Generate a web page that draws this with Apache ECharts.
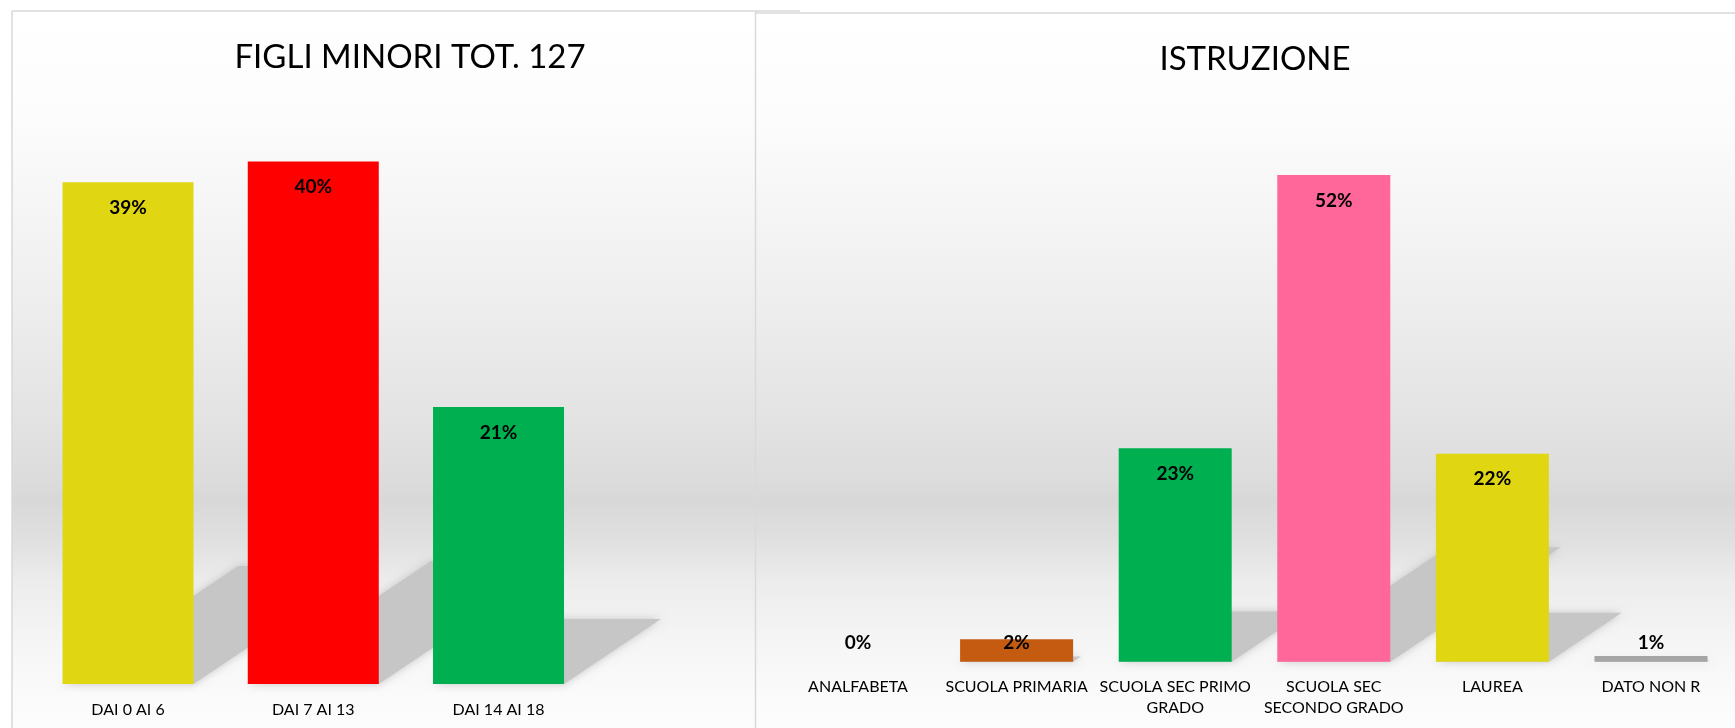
<!DOCTYPE html>
<html>
<head>
<meta charset="utf-8">
<script src="https://cdn.jsdelivr.net/npm/echarts@6/dist/echarts.min.js"></script>
<style>
  html, body { margin: 0; padding: 0; background: #fff; }
  #chart { width: 1735px; height: 728px; }
</style>
</head>
<body>
<div id="chart"></div>
<script>
const figliCategories = ['DAI 0 AI 6', 'DAI 7 AI 13', 'DAI 14 AI 18']
const figliValues = [38.6, 40.2, 21.3]
const figliColors = ['#e0d611', '#ff0000', '#00b050']

const istruzioneCategories = ['ANALFABETA', 'SCUOLA PRIMARIA', 'SCUOLA SEC PRIMO\nGRADO', 'SCUOLA SEC\nSECONDO GRADO', 'LAUREA', 'DATO NON R']
const istruzioneValues = [0, 2.4, 22.8, 52.0, 22.2, 0.6]
const istruzioneColors = ['#a5a5a5', '#c55a11', '#00b050', '#ff6699', '#e0d611', '#a5a5a5']

const FONT = 'Lato, "Open Sans", sans-serif'

let myChart = echarts.init(document.getElementById('chart'))

// sfondo sfumato tipo Excel
function panelBg(x, y, w, h) {
    return {
        type: 'rect',
        z: -10,
        shape: { x: x, y: y, width: w, height: h },
        style: {
            fill: new echarts.graphic.LinearGradient(0, 0, 0, 1, [
                { offset: 0, color: '#ffffff' },
                { offset: 0.152, color: '#fcfcfc' },
                { offset: 0.264, color: '#f6f6f6' },
                { offset: 0.403, color: '#eeeeee' },
                { offset: 0.57, color: '#e3e3e3' },
                { offset: 0.654, color: '#dcdcdc' },
                { offset: 0.682, color: '#d8d8d8' },
                { offset: 0.738, color: '#e0e0e0' },
                { offset: 0.794, color: '#ececec' },
                { offset: 0.877, color: '#f5f5f5' },
                { offset: 0.961, color: '#fbfbfb' },
                { offset: 1, color: '#fcfcfc' }
            ])
        }
    }
}

function border(x1, y1, x2, y2) {
    return {
        type: 'line',
        z: -5,
        shape: { x1: x1, y1: y1, x2: x2, y2: y2 },
        style: { stroke: '#d9d9d9', lineWidth: 1.5 }
    }
}

// ombra prospettica dietro le barre
function shadowSeries(idx, values, barW) {
    return {
        type: 'custom',
        xAxisIndex: idx,
        yAxisIndex: idx,
        z: 1,
        silent: true,
        data: values.map((v, i) => [i, v]),
        renderItem: (params, api) => {
            let base = api.coord([api.value(0), 0])
            let top = api.coord([api.value(0), api.value(1)])
            let h = base[1] - top[1]
            let x0 = base[0] - barW / 2
            let x1 = base[0] + barW / 2
            let dx = h * 0.35
            let dy = h * 0.235
            return {
                type: 'polygon',
                shape: { points: [[x0, base[1]], [x1, base[1]], [x1 + dx, base[1] - dy], [x0 + dx, base[1] - dy]] },
                style: { fill: '#c6c6c6', shadowBlur: 8, shadowColor: '#c6c6c6' }
            }
        }
    }
}

function barData(values, colors) {
    return values.map((v, i) => {
        let item = { value: v, itemStyle: { color: colors[i] } }
        if (v < 5) {
            item.label = { position: 'insideBottom', distance: 9 }
        }
        return item
    })
}

let barLabel = {
    show: true,
    position: 'insideTop',
    distance: 16,
    color: '#000',
    fontFamily: FONT,
    fontWeight: 'bold',
    fontSize: 19,
    formatter: (p) => Math.round(p.value) + '%'
}

let catAxis = {
    type: 'category',
    axisLine: { show: false },
    axisTick: { show: false },
    axisLabel: {
        interval: 0,
        margin: 15,
        color: '#000',
        fontFamily: FONT,
        fontSize: 16,
        lineHeight: 21
    }
}

myChart.setOption({
    animation: false,
    title: [
        {
            text: 'FIGLI MINORI TOT. 127',
            left: 405,
            top: 32,
            textAlign: 'center',
            textStyle: { fontFamily: FONT, fontWeight: 'normal', fontSize: 33, color: '#000', lineHeight: 40 }
        },
        {
            text: 'ISTRUZIONE',
            left: 1250,
            top: 34,
            textAlign: 'center',
            textStyle: { fontFamily: FONT, fontWeight: 'normal', fontSize: 33, color: '#000', lineHeight: 40 }
        }
    ],
    graphic: [
        panelBg(12, 11, 743, 717),
        panelBg(756, 13, 979, 715),
        border(12, 11, 12, 728),
        border(12, 11, 800, 11),
        border(755.5, 11, 755.5, 728),
        border(756, 13, 1735, 13)
    ],
    grid: [
        { left: 35.4, width: 555.75, top: 99, height: 585 },
        { left: 778.7, width: 951.6, top: 100, height: 561.7 }
    ],
    xAxis: [
        { ...catAxis, gridIndex: 0, data: figliCategories },
        { ...catAxis, gridIndex: 1, data: istruzioneCategories }
    ],
    yAxis: [
        { type: 'value', gridIndex: 0, min: 0, max: 45, show: false, splitLine: { show: false } },
        { type: 'value', gridIndex: 1, min: 0, max: 60, show: false, splitLine: { show: false } }
    ],
    series: [
        shadowSeries(0, figliValues, 131),
        shadowSeries(1, istruzioneValues, 113),
        {
            type: 'bar',
            xAxisIndex: 0,
            yAxisIndex: 0,
            z: 2,
            barWidth: 131,
            label: barLabel,
            data: barData(figliValues, figliColors)
        },
        {
            type: 'bar',
            xAxisIndex: 1,
            yAxisIndex: 1,
            z: 2,
            barWidth: 113,
            label: barLabel,
            data: barData(istruzioneValues, istruzioneColors)
        }
    ]
})
</script>
</body>
</html>
